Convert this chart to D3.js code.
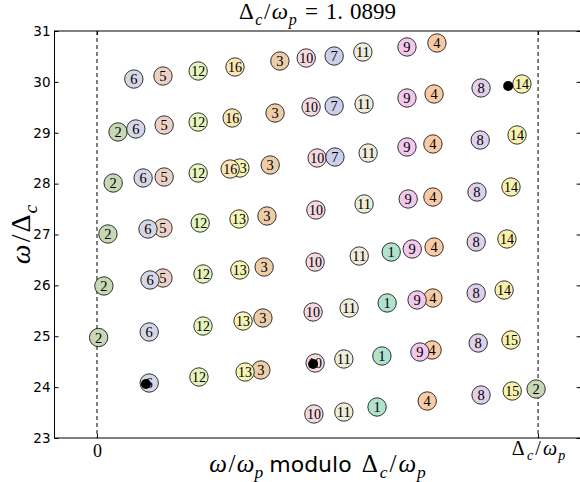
<!DOCTYPE html>
<html>
<head>
<meta charset="utf-8">
<script src="https://cdn.jsdelivr.net/npm/d3@7"></script>
<style>
  html, body { margin: 0; padding: 0; background: #fff; }
  svg { display: block; }
</style>
</head>
<body>
<svg id="chart" width="580" height="482"></svg>
<script>
// ---------------- data ----------------
const DELTA = 1.0899;
const yTicks = [23, 24, 25, 26, 27, 28, 29, 30, 31];
const xTicks = [0, DELTA];

// mode number of every marker
const modeLabels = [
  6, 5, 12, 16, 3, 10, 7, 11, 9, 4,
  2, 6, 5, 12, 16, 3, 10, 7, 11, 9, 4, 8, 14,
  2, 6, 5, 12, 16, 13, 3, 10, 7, 11, 9, 4, 8, 14,
  2, 6, 5, 12, 13, 3, 10, 11, 9, 4, 8, 14,
  2, 6, 5, 12, 13, 3, 10, 11, 1, 9, 4, 8, 14,
  2, 6, 12, 13, 3, 10, 11, 1, 9, 4, 8, 14,
  6, 12, 13, 3, 10, 11, 1, 9, 4, 8, 15,
  10, 11, 1, 4, 8, 15, 2
];
// omega/omega_p modulo Delta_c/omega_p
const modX = [
  0.091, 0.163, 0.250, 0.341, 0.452, 0.517, 0.586, 0.657, 0.766, 0.840,
  0.052, 0.096, 0.166, 0.250, 0.334, 0.440, 0.529, 0.586, 0.660, 0.766, 0.833, 0.949, 1.050,
  0.040, 0.114, 0.166, 0.250, 0.329, 0.353, 0.428, 0.544, 0.588, 0.670, 0.766, 0.830, 0.947, 1.038,
  0.027, 0.126, 0.163, 0.255, 0.351, 0.420, 0.541, 0.660, 0.769, 0.830, 0.939, 1.023,
  0.017, 0.131, 0.163, 0.262, 0.353, 0.413, 0.539, 0.648, 0.727, 0.779, 0.833, 0.937, 1.013,
  0.004, 0.129, 0.262, 0.361, 0.410, 0.534, 0.623, 0.717, 0.791, 0.830, 0.937, 1.006,
  0.129, 0.252, 0.366, 0.405, 0.539, 0.610, 0.704, 0.798, 0.828, 0.942, 1.023,
  0.536, 0.610, 0.692, 0.816, 0.949, 1.026, 1.085
];
// omega/Delta_c
const omegaY = [
  30.056, 30.115, 30.214, 30.292, 30.410, 30.469, 30.508, 30.587, 30.686, 30.764,
  29.015, 29.074, 29.152, 29.211, 29.290, 29.388, 29.506, 29.526, 29.565, 29.683, 29.762, 29.880, 29.958,
  28.012, 28.111, 28.130, 28.209, 28.287, 28.307, 28.366, 28.504, 28.523, 28.602, 28.720, 28.779, 28.857, 28.956,
  27.010, 27.108, 27.128, 27.226, 27.305, 27.364, 27.482, 27.600, 27.698, 27.737, 27.835, 27.934,
  25.988, 26.106, 26.145, 26.224, 26.302, 26.361, 26.459, 26.577, 26.656, 26.715, 26.754, 26.853, 26.912,
  24.975, 25.084, 25.201, 25.300, 25.359, 25.477, 25.555, 25.654, 25.713, 25.752, 25.850, 25.909,
  24.081, 24.199, 24.297, 24.337, 24.474, 24.553, 24.612, 24.690, 24.730, 24.867, 24.926,
  23.472, 23.511, 23.609, 23.727, 23.845, 23.924, 23.963
];
// highlighted (black) points
const dotX = [0.121, 0.534, 1.016];
const dotY = [24.061, 24.455, 29.919];

// colour of mode 1..16
const modeColors = [
  "#b0e2cc", "#c8d8b6", "#ebcea9", "#f8cba5", "#ecd2c6", "#d6d7e6",
  "#cdd0eb", "#e0d0ea", "#f2c9ec", "#f5d8e0", "#eeedd9", "#e6f4bd",
  "#f5f5b6", "#f8f1ad", "#f8f1ad", "#f8e6b4"
];
// stacking order of modes (later is on top)
const drawOrder = [1, 2, 3, 4, 5, 10, 6, 7, 8, 9, 11, 12, 13, 14, 15, 16];

// ---------------- chart ----------------
(function () {
const pLeft = 54.5, pRight = 580.6, pTop = 31, pBottom = 438;
const svg = d3.select("#chart");

const x = d3.scaleLinear().domain([-0.105, 1.195]).range([pLeft, pRight]);
const y = d3.scaleLinear().domain([23, 31]).range([pBottom, pTop]);

const SERIF = "'Liberation Serif', 'DejaVu Serif', serif";
const SANS = "'DejaVu Sans', sans-serif";

// simple math-text builder: parts = {t, it, sub, unsub, sans, size, dx}
function mathText(textSel, parts, size) {
  parts.forEach(p => {
    const ts = textSel.append("tspan").text(p.t);
    const fs = p.sub ? size * 0.7 : (p.size || size);
    ts.attr("font-size", fs)
      .attr("font-family", p.sans ? SANS : SERIF)
      .attr("font-style", p.it ? "italic" : "normal");
    if (p.sub) ts.attr("dy", size * 0.24);
    if (p.unsub) ts.attr("dy", -size * 0.24);
    if (p.dx) ts.attr("dx", p.dx);
  });
}
const deltaOverOmegaP = (g) => [
  {t: "Δ"}, {t: "c", it: true, sub: true, dx: g}, {t: "/", unsub: true, dx: g},
  {t: "ω", it: true, dx: g}, {t: "p", it: true, sub: true, dx: g * 0.5}
];

// dashed lines at 0 and Delta
svg.append("g").selectAll("line").data(xTicks).join("line")
  .attr("x1", d => x(d)).attr("x2", d => x(d))
  .attr("y1", pTop).attr("y2", pBottom)
  .attr("stroke", "#000").attr("stroke-width", 1)
  .attr("stroke-dasharray", "4,3");

// axes with inward ticks
const gL = svg.append("g").attr("transform", `translate(${pLeft},0)`)
  .call(d3.axisLeft(y).tickValues(yTicks).tickSize(-4).tickPadding(4).tickFormat(d3.format("d")));
gL.selectAll("text").attr("font-family", SANS).attr("font-size", 13.5).attr("fill", "#000");
const gR = svg.append("g").attr("transform", `translate(${pRight},0)`)
  .call(d3.axisRight(y).tickValues(yTicks).tickSize(-4).tickFormat(""));
const gB = svg.append("g").attr("transform", `translate(0,${pBottom})`)
  .call(d3.axisBottom(x).tickValues(xTicks).tickSize(-4).tickFormat(""));
const gT = svg.append("g").attr("transform", `translate(0,${pTop})`)
  .call(d3.axisTop(x).tickValues(xTicks).tickSize(-4).tickFormat(""));
[gL, gR, gB, gT].forEach(g => {
  g.select(".domain").remove();
  g.selectAll(".tick line").attr("stroke", "#000");
});

// x tick labels (math)
gB.selectAll(".tick text").each(function(d, i) {
  const t = d3.select(this).attr("fill", "#000").attr("dy", null);
  if (i === 0) { t.attr("y", 19); mathText(t, [{t: "0"}], 18); }
  else { t.attr("y", 17); mathText(t, deltaOverOmegaP(2.2), 20); }
});

// frame
svg.append("rect").attr("x", pLeft).attr("y", pTop)
  .attr("width", pRight - pLeft).attr("height", pBottom - pTop)
  .attr("fill", "none").attr("stroke", "#000").attr("stroke-width", 1);

// markers
const pts = modeLabels.map((m, i) => ({m, x: modX[i], y: omegaY[i]}))
  .sort((a, b) => drawOrder.indexOf(a.m) - drawOrder.indexOf(b.m));
const g = svg.append("g").selectAll("g").data(pts).join("g")
  .attr("transform", d => `translate(${x(d.x)},${y(d.y)})`);
g.append("circle").attr("r", 9.2)
  .attr("fill", d => modeColors[d.m - 1])
  .attr("stroke", "#000").attr("stroke-width", 0.8);
g.append("text").text(d => d.m)
  .attr("text-anchor", "middle").attr("y", 5)
  .attr("font-family", SERIF).attr("font-size", 14.5).attr("fill", "#000")
  .attr("textLength", d => d.m >= 10 ? 14 : null)
  .attr("lengthAdjust", "spacingAndGlyphs");

// black points
svg.append("g").selectAll("circle").data(dotX.map((v, i) => [v, dotY[i]])).join("circle")
  .attr("cx", d => x(d[0])).attr("cy", d => y(d[1])).attr("r", 5).attr("fill", "#000");

// title
const title = svg.append("text").attr("x", (pLeft + pRight) / 2).attr("y", 19)
  .attr("text-anchor", "middle").attr("fill", "#000");
mathText(title, deltaOverOmegaP(1.5).concat([
  {t: "=", unsub: true, dx: 8}, {t: "1.", dx: 8}, {t: "0899", dx: 7}]), 23);

// x label
const xl = svg.append("text").attr("x", (pLeft + pRight) / 2).attr("y", 472)
  .attr("text-anchor", "middle").attr("fill", "#000");
mathText(xl, [{t: "ω", it: true}, {t: "/", dx: 1.5}, {t: "ω", it: true, dx: 1.5}, {t: "p", it: true, sub: true},
  {t: "modulo", sans: true, unsub: true, size: 22, dx: 6}]
  .concat(deltaOverOmegaP(2).map((p, i) => i === 0 ? Object.assign({}, p, {dx: 10}) : p)), 25);

// y label
const yl = svg.append("text").attr("transform", `translate(30,${(pTop + pBottom) / 2}) rotate(-90)`)
  .attr("text-anchor", "middle").attr("fill", "#000");
mathText(yl, [{t: "ω", it: true}, {t: "/", dx: 2}, {t: "Δ", dx: 2}, {t: "c", it: true, sub: true, dx: 1}], 28);
})();
</script>
</body>
</html>
